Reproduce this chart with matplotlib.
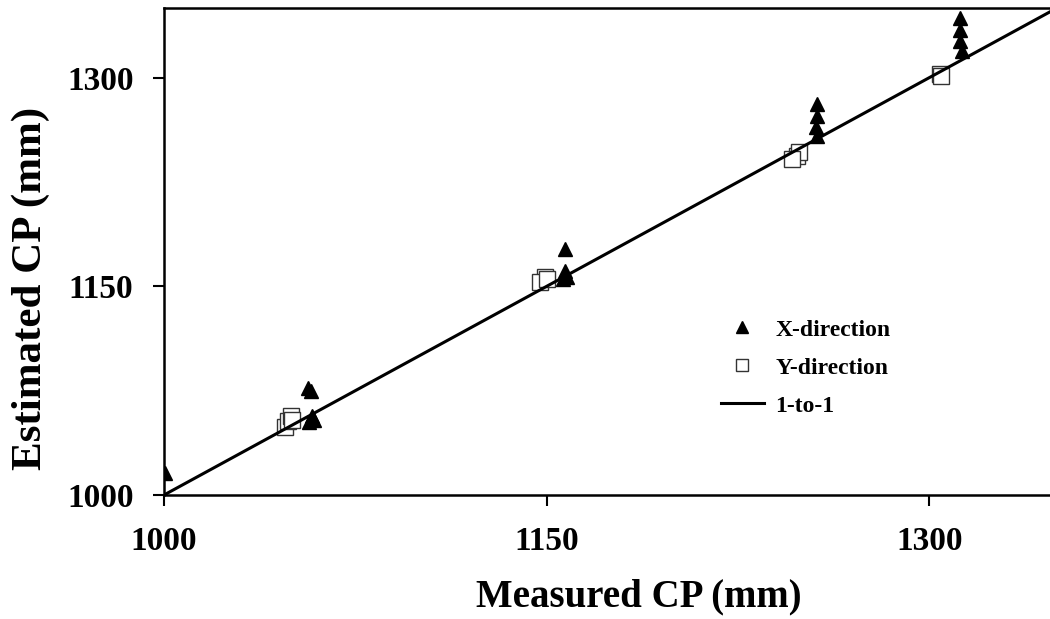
import numpy as np
import matplotlib.pyplot as plt

# Measured vs estimated CP (mm)
x_meas = [1000.4, 1056.4, 1057.6, 1058.0, 1058.8, 1057.0,
          1157.0, 1157.0, 1157.8, 1156.3,
          1256.0, 1256.0, 1255.6, 1256.0,
          1311.8, 1311.8, 1311.8, 1312.6]
x_est = [1016.0, 1077.0, 1075.0, 1057.0, 1054.0, 1052.6,
         1176.6, 1161.0, 1156.5, 1155.0,
         1281.0, 1272.5, 1264.6, 1258.0,
         1342.5, 1334.0, 1326.0, 1319.4]

y_meas = [1047.4, 1048.6, 1049.7, 1050.0,
          1149.2, 1147.3, 1150.0,
          1248.0, 1249.0, 1246.0,
          1304.0, 1304.7]
y_est = [1049.0, 1053.0, 1057.0, 1054.0,
         1156.5, 1152.8, 1155.0,
         1243.7, 1246.6, 1241.5,
         1302.8, 1301.4]

one_to_one = [1000, 1350]
ticks = [1000, 1150, 1300]

plt.rcParams['font.family'] = ['Liberation Serif', 'DejaVu Serif']
plt.rcParams['font.weight'] = 'bold'

fig = plt.figure(figsize=(10.5, 6.19), dpi=100)
ax = fig.add_axes([164 / 1050, 124 / 619, 893 / 1050, 487 / 619])

ax.plot(x_meas, x_est, linestyle='none', marker='^', markersize=10,
        color='black', label='X-direction', zorder=3)
ax.plot(y_meas, y_est, linestyle='none', marker='s', markersize=11,
        markerfacecolor='white', markeredgecolor='#333333', markeredgewidth=1.0,
        label='Y-direction', zorder=2)
ax.plot(one_to_one, one_to_one, color='black', linewidth=2.2,
        label='1-to-1', zorder=4)

ax.set_xlim(1000, 1350)
ax.set_ylim(1000, 1350)
ax.set_xticks(ticks)
ax.set_yticks(ticks)
ax.tick_params(direction='out', length=8, width=1.5, labelsize=24, pad=14)
for sp in ax.spines.values():
    sp.set_linewidth(1.8)
ax.spines['right'].set_visible(False)

ax.set_xlabel('Measured CP (mm)', fontsize=28, fontweight='bold')
ax.xaxis.set_label_coords(0.532, -0.172)
ax.set_ylabel('Estimated CP (mm)', fontsize=31, fontweight='bold')
ax.yaxis.set_label_coords(-0.128, 0.425)

leg = ax.legend(loc='upper left', bbox_to_anchor=(0.6, 0.405), frameon=False,
                fontsize=17, handlelength=1.8, handletextpad=0.5,
                labelspacing=0.7, markerscale=0.8)

fig.savefig('out.png', dpi=100)
